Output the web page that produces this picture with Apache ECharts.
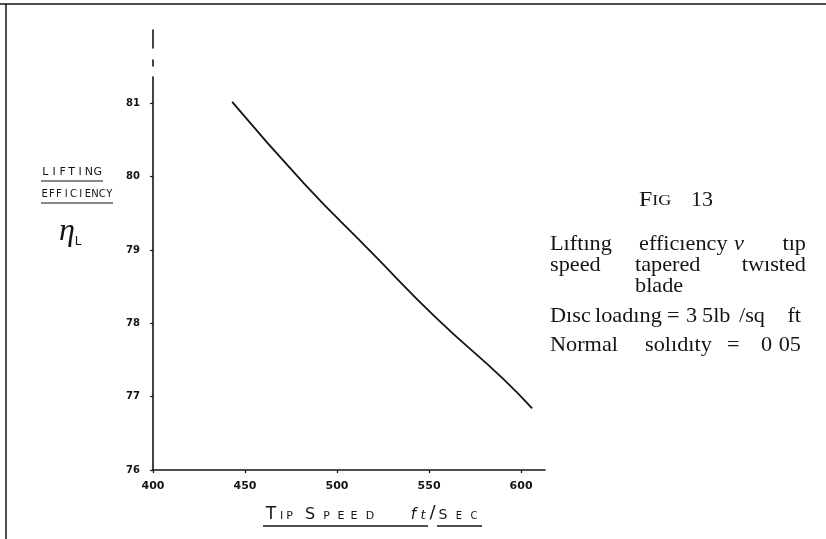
<!DOCTYPE html>
<html>
<head>
<meta charset="utf-8">
<script src="https://cdn.jsdelivr.net/npm/echarts@6/dist/echarts.min.js"></script>
<style>
  html, body { margin: 0; padding: 0; background: #fff; }
  #chart { width: 826px; height: 539px; }
</style>
</head>
<body>
<div id="chart"></div>
<script>
// Lifting efficiency against tip speed, tapered twisted blade
const tipSpeed = [443, 482, 519, 554, 590, 606];
const liftingEfficiency = [81.02, 79.91, 78.96, 78.07, 77.25, 76.84];
const xTicks = [400, 450, 500, 550, 600];
const yTicks = [76, 77, 78, 79, 80, 81];

const INK = '#141414';
const HAND = '"DejaVu Sans", sans-serif';
const SERIF = '"Liberation Serif", "DejaVu Serif", serif';

// hand-lettered characters: [char, centre x, font size, italic]
function handLetters(list, baseline) {
  return list.map(function (c) {
    return {
      type: 'text',
      x: c[1],
      y: baseline - 0.346 * c[2],
      silent: true,
      style: {
        text: c[0],
        fill: INK,
        font: (c[3] ? 'italic ' : '') + c[2] + 'px ' + HAND,
        align: 'center',
        verticalAlign: 'middle'
      }
    };
  });
}

// evenly spread capitals between x0 and x1
function spread(str, x0, x1, baseline, size) {
  const n = str.length;
  const list = [];
  for (let i = 0; i < n; i++) {
    list.push([str[i], x0 + (x1 - x0) * (i + 0.5) / n, size]);
  }
  return handLetters(list, baseline);
}

function rule(x1, y1, x2, y2, w) {
  return {
    type: 'line', silent: true,
    shape: { x1: x1, y1: y1, x2: x2, y2: y2 },
    style: { stroke: INK, lineWidth: w || 1.2 }
  };
}

// caption set in serif, word by word
const captionLines = [
  { y: 244, words: [['Lıftıng', 550], ['efficıency', 639], ['v', 734, 'italic'], ['tıp', 806, null, 'right']] },
  { y: 265, words: [['speed', 550], ['tapered', 635], ['twısted', 806, null, 'right']] },
  { y: 286, words: [['blade', 635]] },
  { y: 316, words: [['Dısc', 550], ['loadıng', 595], ['=', 667], ['3', 686], ['5lb', 702], ['/sq', 739], ['ft', 801, null, 'right']] },
  { y: 345, words: [['Normal', 550], ['solıdıty', 645], ['=', 727], ['0', 761], ['05', 801, null, 'right']] }
];

const captionElems = [];
captionLines.forEach(function (line) {
  line.words.forEach(function (w) {
    captionElems.push({
      type: 'text', x: w[1], y: line.y, silent: true, scaleX: 1.06,
      style: {
        text: w[0], fill: INK,
        font: (w[2] ? 'italic ' : '') + '21px ' + SERIF,
        align: w[3] || 'left', verticalAlign: 'middle'
      }
    });
  });
});

const graphics = [
  // frame
  rule(0, 4, 826, 4, 1.5),
  rule(6, 4, 6, 539, 1.5),
  // FIG 13
  {
    type: 'text', x: 639, y: 201, silent: true, scaleX: 1.2,
    style: {
      text: '{a|F}{b|IG}', verticalAlign: 'middle', align: 'left',
      rich: {
        a: { font: '20px ' + SERIF, fill: INK },
        b: { font: '15px ' + SERIF, fill: INK }
      }
    }
  },
  {
    type: 'text', x: 691, y: 201, silent: true, scaleX: 1.1,
    style: { text: '13', font: '20px ' + SERIF, fill: INK, align: 'left', verticalAlign: 'middle' }
  },
  // eta subscript L
  {
    type: 'text', x: 67, y: 232, silent: true,
    style: { text: 'η', font: 'italic 32px ' + SERIF, fill: INK, align: 'center', verticalAlign: 'middle' }
  },
  {
    type: 'text', x: 78, y: 242, silent: true,
    style: { text: 'L', font: '12px ' + HAND, fill: INK, align: 'center', verticalAlign: 'middle' }
  },
  rule(41, 181, 103, 181, 1.2),
  rule(41, 203, 113, 203, 1.2),
  rule(263, 526, 428, 526, 1.3),
  rule(437, 526, 482, 526, 1.3)
].concat(
  spread('LIFTING', 41, 102, 176, 11),
  spread('EFFICIENCY', 41, 113, 198, 10),
  handLetters([
    ['T', 271, 17], ['I', 281.5, 11], ['P', 289.5, 11],
    ['S', 310, 16], ['P', 326.5, 11], ['E', 341, 11], ['E', 354, 11], ['D', 370, 11],
    ['f', 413.5, 15, true], ['t', 423, 13, true], ['/', 432.5, 18],
    ['S', 443, 14], ['E', 459, 10], ['C', 474, 10]
  ], 520),
  captionElems
);

const chart = echarts.init(document.getElementById('chart'), null, { renderer: 'canvas' });

chart.setOption({
  backgroundColor: '#ffffff',
  animation: false,
  grid: { left: 153, right: 281, top: 30, bottom: 69, containLabel: false },
  xAxis: {
    type: 'value',
    min: 400, max: 613, interval: 50,
    axisLine: { show: true, lineStyle: { color: INK, width: 1.6 } },
    axisTick: { show: true, length: 3, customValues: xTicks, lineStyle: { color: INK, width: 1.3 } },
    axisLabel: {
      customValues: xTicks, margin: 11,
      color: INK, fontFamily: HAND, fontSize: 11, fontWeight: 'bold'
    },
    splitLine: { show: false }
  },
  yAxis: {
    type: 'value',
    min: 76, max: 82, interval: 1,
    axisLine: { show: true, lineStyle: { color: INK, width: 1.6, type: [393, 11, 6, 12, 19, 60] } },
    axisTick: { show: true, length: 3, customValues: yTicks, lineStyle: { color: INK, width: 1.2 } },
    axisLabel: {
      customValues: yTicks, margin: 13,
      color: INK, fontFamily: HAND, fontSize: 10, fontWeight: 'bold'
    },
    splitLine: { show: false }
  },
  series: [{
    type: 'line',
    data: tipSpeed.map(function (x, i) { return [x, liftingEfficiency[i]]; }),
    showSymbol: false,
    smooth: 0.5,
    lineStyle: { color: INK, width: 1.8 }
  }],
  graphic: graphics
});
</script>
</body>
</html>
